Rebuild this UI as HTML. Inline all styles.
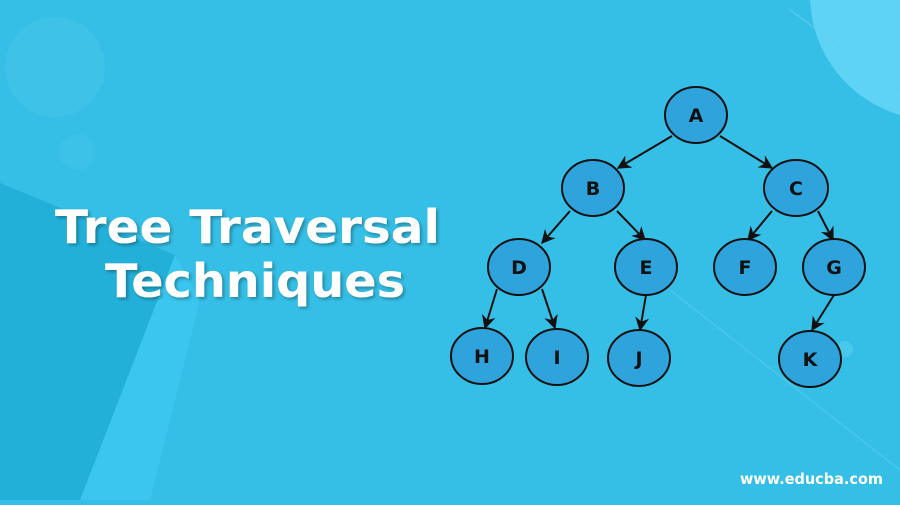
<!DOCTYPE html>
<html><head><meta charset="utf-8"><style>
html,body{margin:0;padding:0;}
body{width:900px;height:500px;overflow:hidden;background:#35bfe6;}
</style></head><body>
<svg width="900" height="500" viewBox="0 0 900 500" xmlns="http://www.w3.org/2000/svg">
<defs>
<marker id="ar" viewBox="0 0 10 10" refX="9" refY="5" markerWidth="7" markerHeight="7" orient="auto-start-reverse">
<path d="M0,0 L10,5 L0,10 L3,5 Z" fill="#111"/>
</marker>
<filter id="sh"><feDropShadow dx="2" dy="2" stdDeviation="1.5" flood-color="#000" flood-opacity="0.3"/></filter>
</defs>
<rect width="900" height="500" fill="#35bfe6"/>
<circle cx="55" cy="67" r="50" fill="#48c6ea" opacity="0.5"/>
<circle cx="77" cy="152" r="18" fill="#48c6ea" opacity="0.4"/>
<circle cx="935" cy="-5" r="125" fill="#5fd3f5"/>
<polygon points="150,310 175,255 200,300 150,500 75,500" fill="#3ac6ee"/>
<polygon points="0,183 175,255 80,500 0,500" fill="#22b0d8"/>
<line x1="790" y1="10" x2="900" y2="90" stroke="#5ed0f0" stroke-width="1.5" opacity="0.6"/>
<line x1="670" y1="290" x2="900" y2="470" stroke="#5ed0f0" stroke-width="1.5" opacity="0.5"/>
<circle cx="845" cy="278" r="14" fill="#6cd6f3" opacity="0.5"/>
<circle cx="845" cy="349" r="8" fill="#6cd6f3" opacity="0.4"/>
<g filter="url(#sh)" fill="#fff" font-family="'DejaVu Sans',sans-serif" font-weight="bold" font-size="46">
<text x="55" y="243" textLength="385" lengthAdjust="spacingAndGlyphs">Tree Traversal</text>
<text x="105" y="297" textLength="300" lengthAdjust="spacingAndGlyphs">Techniques</text>
</g>
<text x="740" y="484" fill="#fff" font-family="'DejaVu Sans',sans-serif" font-weight="bold" font-size="15" textLength="143" lengthAdjust="spacingAndGlyphs">www.educba.com</text>
<g stroke="#111" stroke-width="2" marker-end="url(#ar)">
<line x1="672" y1="136" x2="618" y2="168"/>
<line x1="720" y1="136" x2="772" y2="168"/>
<line x1="570" y1="211" x2="542" y2="243"/>
<line x1="617" y1="211" x2="645" y2="240"/>
<line x1="772" y1="211" x2="748" y2="240"/>
<line x1="818" y1="211" x2="833" y2="240"/>
<line x1="497" y1="289" x2="485" y2="328"/>
<line x1="542" y1="289" x2="555" y2="328"/>
<line x1="646" y1="295" x2="640" y2="330"/>
<line x1="834" y1="295" x2="812" y2="330"/>
</g>
<g fill="#2ea3dc" stroke="#111" stroke-width="2">
<ellipse cx="696" cy="115" rx="31" ry="28"/>
<ellipse cx="593" cy="188" rx="31" ry="28"/>
<ellipse cx="796" cy="188" rx="32" ry="28"/>
<ellipse cx="519" cy="267" rx="31" ry="28"/>
<ellipse cx="646" cy="267" rx="31" ry="28"/>
<ellipse cx="745" cy="267" rx="31" ry="28"/>
<ellipse cx="834" cy="267" rx="31" ry="28"/>
<ellipse cx="482" cy="356" rx="31" ry="28"/>
<ellipse cx="557" cy="357" rx="31" ry="28"/>
<ellipse cx="639" cy="358" rx="31" ry="28"/>
<ellipse cx="810" cy="359" rx="31" ry="28"/>
</g>
<g fill="#111" font-family="'DejaVu Sans',sans-serif" font-weight="bold" font-size="19" text-anchor="middle">
<text x="696" y="122">A</text>
<text x="593" y="195">B</text>
<text x="796" y="195">C</text>
<text x="519" y="274">D</text>
<text x="646" y="274">E</text>
<text x="745" y="274">F</text>
<text x="834" y="274">G</text>
<text x="482" y="363">H</text>
<text x="557" y="364">I</text>
<text x="639" y="365">J</text>
<text x="810" y="366">K</text>
</g>
</svg>
</body></html>
